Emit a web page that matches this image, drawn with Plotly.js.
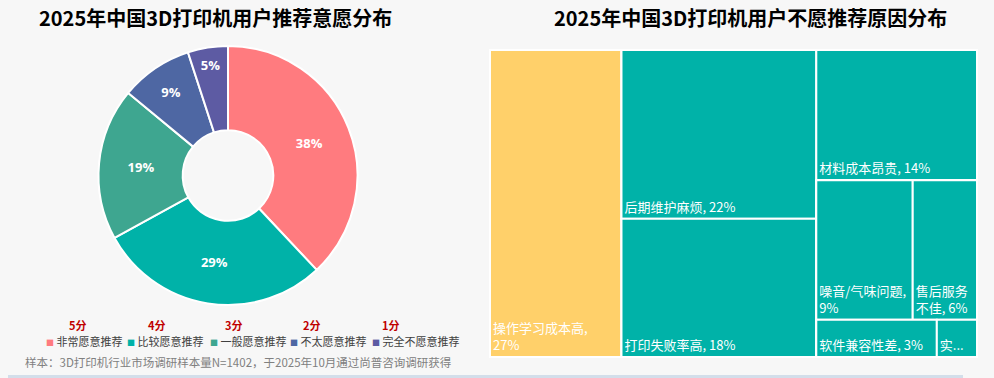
<!DOCTYPE html>
<html><head><meta charset="utf-8">
<script src="https://cdn.plot.ly/plotly-3.0.1.min.js"></script>
<style>html,body{margin:0;padding:0;background:#f7f7f7;}#c{width:994px;height:378px;}</style>
</head><body><div id="c"></div>
<script>
// Pie data
const pieLabels = ["非常愿意推荐", "比较愿意推荐", "一般愿意推荐", "不太愿意推荐", "完全不愿意推荐"];
const pieValues = [38, 29, 19, 9, 5];
const pieColors = ["#FF7B7F", "#00B2A8", "#3EA690", "#4E67A3", "#5D5BA3"];
const scoreLabels = ["5分", "4分", "3分", "2分", "1分"];

// Treemap data
const tmLabels = ["操作学习成本高", "后期维护麻烦", "打印失败率高", "材料成本昂贵", "噪音/气味问题", "售后服务不佳", "软件兼容性差", "实..."];
const tmValues = [27, 22, 18, 14, 9, 6, 3, 1];
const tmColors = ["#FFD06A", "#00B2A8", "#00B2A8", "#00B2A8", "#00B2A8", "#00B2A8", "#00B2A8", "#00B2A8"];
// tiling groups (which leaf sits in which block of the layout)
const tmGroupOf = ["", "g1", "g1", "g2", "g4", "g4", "g5", "g5"];
const groupIds = ["g1", "g2", "g3", "g4", "g5"];
const groupParents = ["", "", "g2", "g3", "g3"];
// label wrapping width (in CJK character units) for narrow tiles
const tmWrap = [7.6, 99, 99, 99, 7.6, 4.5, 99, 99];

const CJK = '"Noto Sans CJK SC", "Noto Sans", sans-serif';

const pie = {
  type: 'pie', labels: pieLabels, values: pieValues, sort: false, direction: 'clockwise', rotation: 0,
  hole: 0.35,
  marker: {colors: pieColors, line: {color: '#ffffff', width: 2}},
  texttemplate: '%{value}%', textposition: 'inside', insidetextorientation: 'horizontal',
  textfont: {family: '"Open Sans", ' + CJK, size: 13, color: '#ffffff', weight: 'bold'},
  domain: {x: [98/994, 358/994], y: [(378-305)/378, (378-46)/378]},
  showlegend: false, hoverinfo: 'label+percent'
};

function wrapText(s, n) {
  const lines = []; let cur = '', w = 0;
  for (const ch of Array.from(s)) {
    const cw = ch.charCodeAt(0) > 255 ? 1 : 0.5;
    if (w + cw > n && cur) { lines.push(cur.trim()); cur = ''; w = 0; }
    cur += ch; w += cw;
  }
  if (cur) lines.push(cur.trim());
  return lines.join('<br>');
}

// build hierarchy nodes, ordered so that sibling order follows the data order
const nodes = [];
function depthOf(g) { let d = 0; while (g) { d++; g = groupParents[groupIds.indexOf(g)]; } return d; }
function isUnder(parent, g) { while (g) { if (g === parent) return true; g = groupParents[groupIds.indexOf(g)]; } return false; }
groupIds.forEach((g, i) => {
  let anchor = tmLabels.length;
  tmGroupOf.forEach((lg, j) => { if (isUnder(g, lg)) anchor = Math.min(anchor, j); });
  nodes.push({id: g, label: "", parent: groupParents[i], value: 0, color: "#00B2A8", text: "", anchor: anchor, depth: depthOf(g)});
});
tmLabels.forEach((l, i) => {
  const full = tmValues[i] < 2 ? l : l + ', ' + tmValues[i] + '%';
  nodes.push({id: l, label: l, parent: tmGroupOf[i], value: tmValues[i], color: tmColors[i],
    text: wrapText(full, tmWrap[i]), anchor: i, depth: 99});
});
nodes.sort((a, b) => a.anchor - b.anchor || a.depth - b.depth);

const tm = {
  type: 'treemap', ids: nodes.map(n => n.id), labels: nodes.map(n => n.label), parents: nodes.map(n => n.parent),
  values: nodes.map(n => n.value), text: nodes.map(n => n.text),
  branchvalues: 'remainder', sort: false,
  marker: {colors: nodes.map(n => n.color), line: {color: '#ffffff', width: 2}, pad: {t: 0, l: 0, r: 0, b: 0}},
  tiling: {packing: 'squarify', pad: 0},
  texttemplate: '%{text}', textposition: 'bottom left',
  textfont: {family: CJK, size: 13, color: '#ffffff'},
  pathbar: {visible: false},
  domain: {x: [490/994, 977/994], y: [(378-357)/378, (378-50)/378]},
  hoverinfo: 'label+value'
};

const annotations = [
  {text: '<b>2025年中国3D打印机用户推荐意愿分布</b>', x: 215/994, y: 1-17/378, xref: 'paper', yref: 'paper', xanchor: 'center', yanchor: 'middle', showarrow: false,
   font: {family: CJK, size: 20, color: '#000000'}},
  {text: '<b>2025年中国3D打印机用户不愿推荐原因分布</b>', x: 750/994, y: 1-17/378, xref: 'paper', yref: 'paper', xanchor: 'center', yanchor: 'middle', showarrow: false,
   font: {family: CJK, size: 20, color: '#000000'}},
  {text: '样本：3D打印机行业市场调研样本量N=1402，于2025年10月通过尚普咨询调研获得', x: 23/994, y: 1-362/378, xref: 'paper', yref: 'paper',
   xanchor: 'left', yanchor: 'middle', showarrow: false, font: {family: CJK, size: 11.5, color: '#808080'}}
];
const legendX = [44, 125, 208, 288, 370];
const scoreX = [78, 157, 234, 312, 391];
pieLabels.forEach((l, i) => {
  annotations.push({text: '<span style="color:' + pieColors[i] + ';font-size:8px">■</span> ' + l,
    x: legendX[i]/994, y: 1-341/378, xref: 'paper', yref: 'paper', xanchor: 'left', yanchor: 'middle', showarrow: false,
    font: {family: CJK, size: 11, color: '#404040'}});
  annotations.push({text: '<b>' + scoreLabels[i] + '</b>', x: scoreX[i]/994, y: 1-325/378, xref: 'paper', yref: 'paper',
    xanchor: 'center', yanchor: 'middle', showarrow: false, font: {family: CJK, size: 11, color: '#C00000'}});
});

const layout = {
  width: 994, height: 378, margin: {l: 0, r: 0, t: 0, b: 0},
  paper_bgcolor: '#f7f7f7', plot_bgcolor: '#f7f7f7',
  annotations: annotations,
  shapes: [{type: 'rect', xref: 'paper', yref: 'paper', x0: 8/994, x1: 963/994, y0: 0, y1: 3/378,
    fillcolor: '#D3DEEA', line: {width: 0}}],
  showlegend: false
};
Plotly.newPlot('c', [pie, tm], layout, {displayModeBar: false, staticPlot: true});
</script></body></html>
